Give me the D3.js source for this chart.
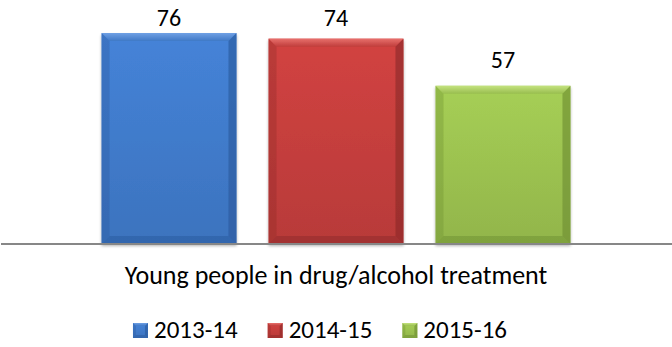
<!DOCTYPE html>
<html><head><meta charset="utf-8">
<script src="https://cdn.jsdelivr.net/npm/d3@7"></script>
<style>body{margin:0;background:#fff}svg{display:block}</style>
</head><body>
<script>
const categories = ["2013-14", "2014-15", "2015-16"];
const values = [76, 74, 57];
const axisTitle = "Young people in drug/alcohol treatment";
const colors = ["#3f78c6", "#c03d3b", "#98bd4e"];
const lights = ["#6fa0e4", "#e8706c", "#c4e27e"];
const darks = ["#2a5a9e", "#8e2a28", "#6e8f32"];

const W = 672, H = 347;
const FONT = "Carlito, Lato, 'Open Sans', sans-serif";
const svg = d3.select("body").append("svg").attr("width", W).attr("height", H);
const defs = svg.append("defs");

const baseY = 244;
const x = d3.scaleBand().domain(categories).range([0, W]).paddingInner(0.192).paddingOuter(0.608);
const y = d3.scaleLinear().domain([0, 80]).range([baseY, 22]);

categories.forEach((c, i) => {
  const g = defs.append("linearGradient").attr("id", "g" + i).attr("x1", 0).attr("x2", 0).attr("y1", 0).attr("y2", 1);
  g.append("stop").attr("offset", "0%").attr("stop-color", d3.color(colors[i]).brighter(0.25));
  g.append("stop").attr("offset", "100%").attr("stop-color", d3.color(colors[i]).darker(0.12));
  const t = defs.append("linearGradient").attr("id", "t" + i).attr("x1", 0).attr("x2", 0).attr("y1", 0).attr("y2", 1);
  t.append("stop").attr("offset", "0%").attr("stop-color", lights[i]);
  t.append("stop").attr("offset", "100%").attr("stop-color", colors[i]);
});
const sh = defs.append("filter").attr("id", "sh").attr("x", "-10%").attr("y", "-10%").attr("width", "120%").attr("height", "120%");
sh.append("feGaussianBlur").attr("in", "SourceAlpha").attr("stdDeviation", 1.5).attr("result", "b");
sh.append("feOffset").attr("dy", 1.5).attr("result", "o");
sh.append("feComponentTransfer").append("feFuncA").attr("type", "linear").attr("slope", 0.3);
const m = sh.append("feMerge"); m.append("feMergeNode"); m.append("feMergeNode").attr("in", "SourceGraphic");

function bevelBar(gp, x0, y0, w, h, i, b) {
  const x1 = x0 + w, y1 = y0 + h;
  gp.append("rect").attr("x", x0).attr("y", y0).attr("width", w).attr("height", h).attr("fill", `url(#g${i})`);
  gp.append("path").attr("d", `M${x0},${y0}L${x1},${y0}L${x1-b},${y0+b}L${x0+b},${y0+b}Z`).attr("fill", `url(#t${i})`);
  gp.append("path").attr("d", `M${x0},${y0}L${x0+b},${y0+b}L${x0+b},${y1-b}L${x0},${y1}Z`).attr("fill", darks[i]).attr("opacity", 0.35);
  gp.append("path").attr("d", `M${x1},${y0}L${x1-b},${y0+b}L${x1-b},${y1-b}L${x1},${y1}Z`).attr("fill", darks[i]).attr("opacity", 0.65);
  gp.append("path").attr("d", `M${x0},${y1}L${x0+b},${y1-b}L${x1-b},${y1-b}L${x1},${y1}Z`).attr("fill", darks[i]).attr("opacity", 0.5);
}

const bars = svg.append("g");
categories.forEach((c, i) => {
  const gp = bars.append("g").attr("filter", "url(#sh)");
  bevelBar(gp, x(c), y(values[i]), x.bandwidth(), baseY - y(values[i]), i, 8);
});

svg.append("line").attr("x1", 1).attr("x2", W).attr("y1", baseY).attr("y2", baseY)
  .attr("stroke", "#878787").attr("stroke-width", 2);

// value labels (kept inside plot top, as in the source)
svg.append("g").selectAll("text").data(values).join("text")
  .attr("x", (d, i) => x(categories[i]) + x.bandwidth() / 2)
  .attr("y", d => Math.max(y(d) - 18, 26))
  .attr("text-anchor", "middle").attr("font-family", FONT).attr("font-size", 24).attr("fill", "#000")
  .text(d => d);

svg.append("text").attr("x", 336).attr("y", 284).attr("text-anchor", "middle")
  .attr("font-family", FONT).attr("font-size", 26).attr("fill", "#000").text(axisTitle);

// legend
const leg = svg.append("g");
const items = categories.map((c, i) => {
  const gp = leg.append("g");
  const t = gp.append("text").attr("y", 338).attr("font-family", FONT)
    .attr("font-size", 25).attr("fill", "#000").text(c);
  return {gp, t, w: t.node().getComputedTextLength()};
});
const sq = 15, gapT = 6, gapI = 30;
const total = d3.sum(items, d => sq + gapT + d.w) + gapI * (items.length - 1);
let cx = 320 - total / 2;
items.forEach((it, i) => {
  bevelBar(it.gp.insert("g", "text"), cx, 323, sq, sq, i, 3);
  it.t.attr("x", cx + sq + gapT);
  cx += sq + gapT + it.w + gapI;
});
</script>
</body></html>
